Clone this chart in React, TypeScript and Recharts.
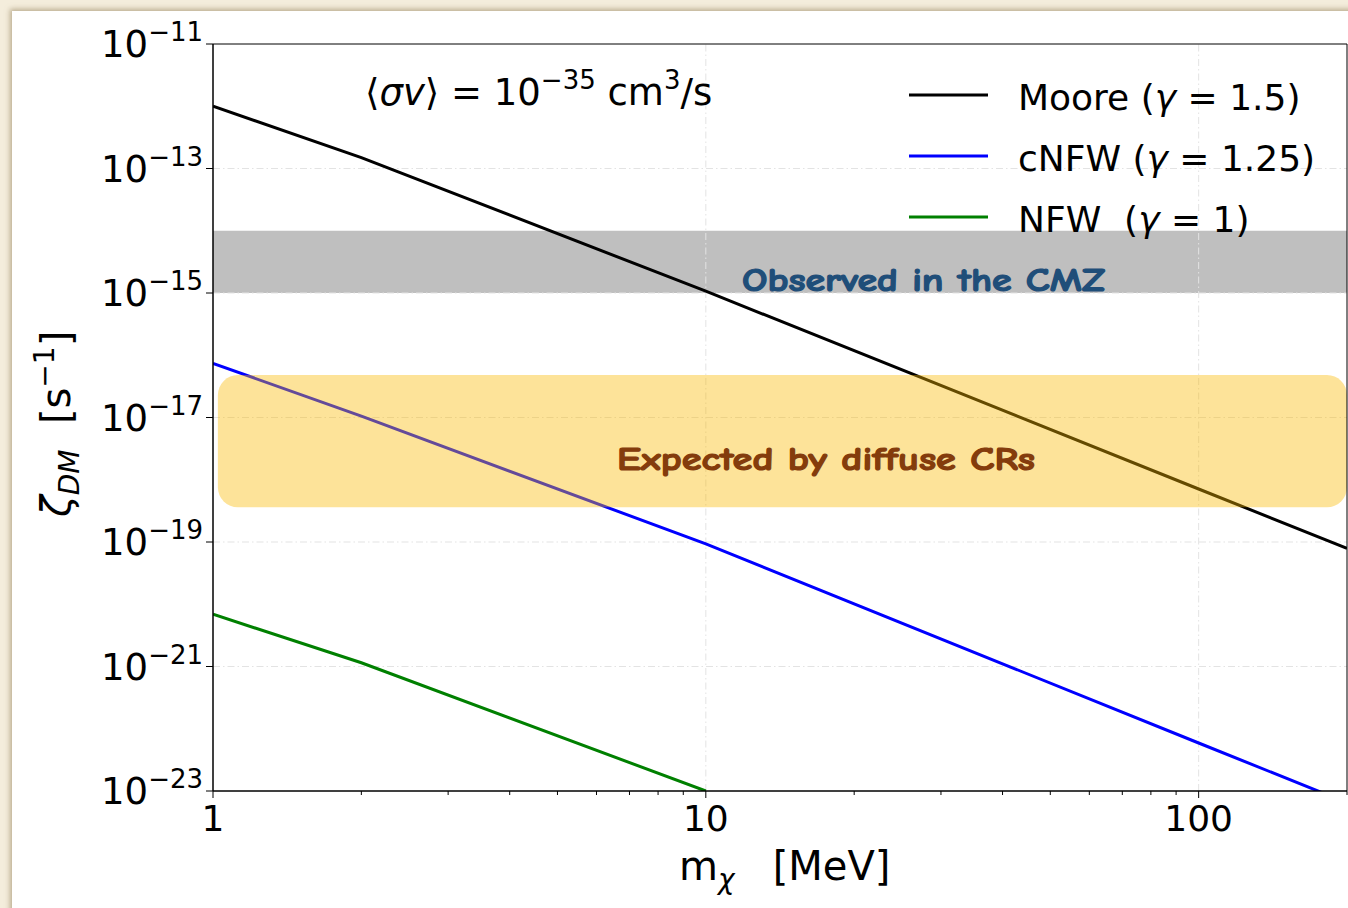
import React from 'react';
import {
  LineChart,
  Line,
  XAxis,
  YAxis,
  ReferenceArea,
  ReferenceLine,
} from 'recharts';

// dark-matter induced ionisation rate vs. DM mass, three halo profiles
const masses = [1, 2, 10, 100, 200];
const mooreRate = [1.0e-12, 1.5e-13, 1.07e-15, 7.1e-19, 7.9e-20];
const cnfwRate = [7.4e-17, 1.05e-17, 9.3e-20, 5.9e-23, 6.5e-24];
const nfwMasses = [1, 2, 10];
const nfwRate = [6.9e-21, 1.15e-21, 1.0e-23];

// axis ticks
const xMajor = [1, 10, 100];
const xMinor = [2, 3, 4, 5, 6, 7, 8, 9, 20, 30, 40, 50, 60, 70, 80, 90, 200];
const yTickExp = [-11, -13, -15, -17, -19, -21, -23];
const xGrid = [10, 100];
const yGrid = [1e-13, 1e-15, 1e-17, 1e-19, 1e-21];

// shaded bands
const cmzBand = [1e-15, 1e-14];
const crBand = [3.6e-19, 4.8e-17];
const crBandMass = [1.023, 200];

const FONT = '"DejaVu Sans", sans-serif';
const CARTOON = '"Comic Sans MS", "Comic Neue", "DejaVu Sans", sans-serif';

const moore = masses.map((m, i) => ({ m, zeta: mooreRate[i] }));
const cnfw = masses.map((m, i) => ({ m, zeta: cnfwRate[i] }));
const nfw = nfwMasses.map((m, i) => ({ m, zeta: nfwRate[i] }));

const legendItems = [
  { name: 'Moore', gamma: '1.5', color: '#000000', gap: ' ' },
  { name: 'cNFW', gamma: '1.25', color: '#0000ff', gap: ' ' },
  { name: 'NFW', gamma: '1', color: '#008000', gap: '\u00a0\u00a0' },
];

function XTick({ x, y, payload }: any) {
  const major = xMajor.includes(payload.value);
  return (
    <g>
      <line x1={x} x2={x} y1={y} y2={y + (major ? 7 : 4)} stroke="#000" strokeWidth={1} />
      {major && (
        <text x={x} y={y + 40} textAnchor="middle" fontSize={36} fontFamily={FONT} fill="#000">
          {payload.value}
        </text>
      )}
    </g>
  );
}

function YTick({ x, y, payload }: any) {
  const e = Math.round(Math.log10(payload.value));
  return (
    <g>
      <line x1={x} x2={x - 7} y1={y} y2={y} stroke="#000" strokeWidth={1} />
      <text x={x - 10} y={y + 13} textAnchor="end" fontFamily={FONT} fill="#000">
        <tspan fontSize={37}>10</tspan>
        <tspan fontSize={26} dy={-16}>{'\u2212' + Math.abs(e)}</tspan>
      </text>
    </g>
  );
}

function RoundedBand(props: any) {
  const { x, y, width, height } = props;
  return <rect x={x} y={y} width={width} height={height} rx={20} ry={20} fill="rgb(250,185,0)" fillOpacity={0.4} />;
}

export default function App() {
  return (
    <div
      style={{
        position: 'absolute',
        left: 0,
        top: 0,
        width: 1348,
        height: 908,
        background: '#f4eddc',
        overflow: 'hidden',
      }}
    >
      <div
        style={{
          position: 'absolute',
          left: 12,
          top: 11,
          width: 1400,
          height: 960,
          background: '#ffffff',
          boxShadow: '-2px -2px 5px rgba(140,120,80,0.55)',
        }}
      />
      <div style={{ position: 'absolute', left: 0, top: 0 }}>
        <LineChart
          width={1348}
          height={908}
          margin={{ top: 44, right: 1, left: 33, bottom: 57 }}
        >
          <XAxis
            dataKey="m"
            type="number"
            scale="log"
            domain={[1, 200]}
            ticks={[...xMajor, ...xMinor].sort((a, b) => a - b)}
            interval={0}
            allowDataOverflow
            height={60}
            tickSize={0}
            tickMargin={0}
            tick={<XTick />}
            stroke="#000"
          />
          <YAxis
            dataKey="zeta"
            type="number"
            scale="log"
            domain={[1e-23, 1e-11]}
            ticks={yTickExp.map((e) => Math.pow(10, e))}
            interval={0}
            allowDataOverflow
            width={180}
            tickSize={0}
            tickMargin={0}
            tick={<YTick />}
            stroke="#000"
          />
          <ReferenceArea
            x1={1}
            x2={200}
            y1={cmzBand[0]}
            y2={cmzBand[1]}
            fill="#bfbfbf"
            fillOpacity={1}
            stroke="none"
          />
          {xGrid.map((v) => (
            <ReferenceLine key={'gx' + v} x={v} stroke="#e3e3e3" strokeWidth={1} strokeDasharray="7 3 1.5 3" />
          ))}
          {yGrid.map((v) => (
            <ReferenceLine key={'gy' + v} y={v} stroke="#e3e3e3" strokeWidth={1} strokeDasharray="7 3 1.5 3" />
          ))}
          <Line data={moore} dataKey="zeta" type="linear" stroke="#000000" strokeWidth={3} dot={false} isAnimationActive={false} />
          <Line data={cnfw} dataKey="zeta" type="linear" stroke="#0000ff" strokeWidth={3} dot={false} isAnimationActive={false} />
          <Line data={nfw} dataKey="zeta" type="linear" stroke="#008000" strokeWidth={3} dot={false} isAnimationActive={false} />
          <ReferenceArea
            x1={crBandMass[0]}
            x2={crBandMass[1]}
            y1={crBand[0]}
            y2={crBand[1]}
            shape={<RoundedBand />}
            zIndex={1000}
          />
          <ReferenceArea
            x1={1}
            x2={200}
            y1={1e-23}
            y2={1e-11}
            fill="none"
            stroke="#000"
            strokeWidth={1}
            zIndex={1100}
          />
        </LineChart>
      </div>
      <svg
        width={1348}
        height={908}
        style={{ position: 'absolute', left: 0, top: 0, pointerEvents: 'none' }}
      >
        {/* annotation */}
        <text x={365} y={105} fontFamily={FONT} fontSize={37} fill="#000">
          <tspan>{'\u27e8'}</tspan>
          <tspan fontStyle="italic">{'\u03c3v'}</tspan>
          <tspan>{'\u27e9 = 10'}</tspan>
          <tspan fontSize={26} dy={-16}>{'\u221235'}</tspan>
          <tspan dy={16}>{'\u00a0cm'}</tspan>
          <tspan fontSize={26} dy={-16}>3</tspan>
          <tspan dy={16}>/s</tspan>
        </text>

        {/* legend */}
        {legendItems.map((it, i) => {
          const y = 95 + i * 61;
          return (
            <g key={it.name}>
              <line x1={909} x2={988} y1={y} y2={y} stroke={it.color} strokeWidth={3} />
              <text x={1018} y={y + 15} fontFamily={FONT} fontSize={36} fill="#000">
                <tspan>{it.name + it.gap + '('}</tspan>
                <tspan fontStyle="italic">{'\u03b3'}</tspan>
                <tspan>{' = ' + it.gamma + ')'}</tspan>
              </text>
            </g>
          );
        })}

        {/* band captions */}
        <text
          x={742}
          y={291}
          fontFamily={CARTOON}
          fontWeight="bold"
          fontSize={33}
          fill="#1f4e79"
          stroke="#1f4e79"
          strokeWidth={1.2}
          textLength={363}
          lengthAdjust="spacingAndGlyphs"
        >
          Observed in the CMZ
        </text>
        <text
          x={617}
          y={470}
          fontFamily={CARTOON}
          fontWeight="bold"
          fontSize={33}
          fill="#843c0c"
          stroke="#843c0c"
          strokeWidth={1.2}
          textLength={418}
          lengthAdjust="spacingAndGlyphs"
        >
          Expected by diffuse CRs
        </text>

        {/* axis titles */}
        <text x={679} y={880} fontFamily={FONT} fontSize={40} fill="#000">
          <tspan>m</tspan>
          <tspan fontStyle="italic" fontSize={28} dy={9}>{'\u03c7'}</tspan>
          <tspan dy={-9}>{'\u00a0\u00a0\u00a0[MeV]'}</tspan>
        </text>
        <text
          transform="translate(70, 517) rotate(-90)"
          x={0}
          y={0}
          fontFamily={FONT}
          fontSize={40}
          fill="#000"
        >
          <tspan fontStyle="italic">{'\u03b6'}</tspan>
          <tspan fontStyle="italic" fontSize={28} dy={9}>DM</tspan>
          <tspan dy={-9}>{'\u00a0\u00a0[s'}</tspan>
          <tspan fontSize={28} dy={-16}>{'\u22121'}</tspan>
          <tspan dy={16}>]</tspan>
        </text>
      </svg>
    </div>
  );
}
